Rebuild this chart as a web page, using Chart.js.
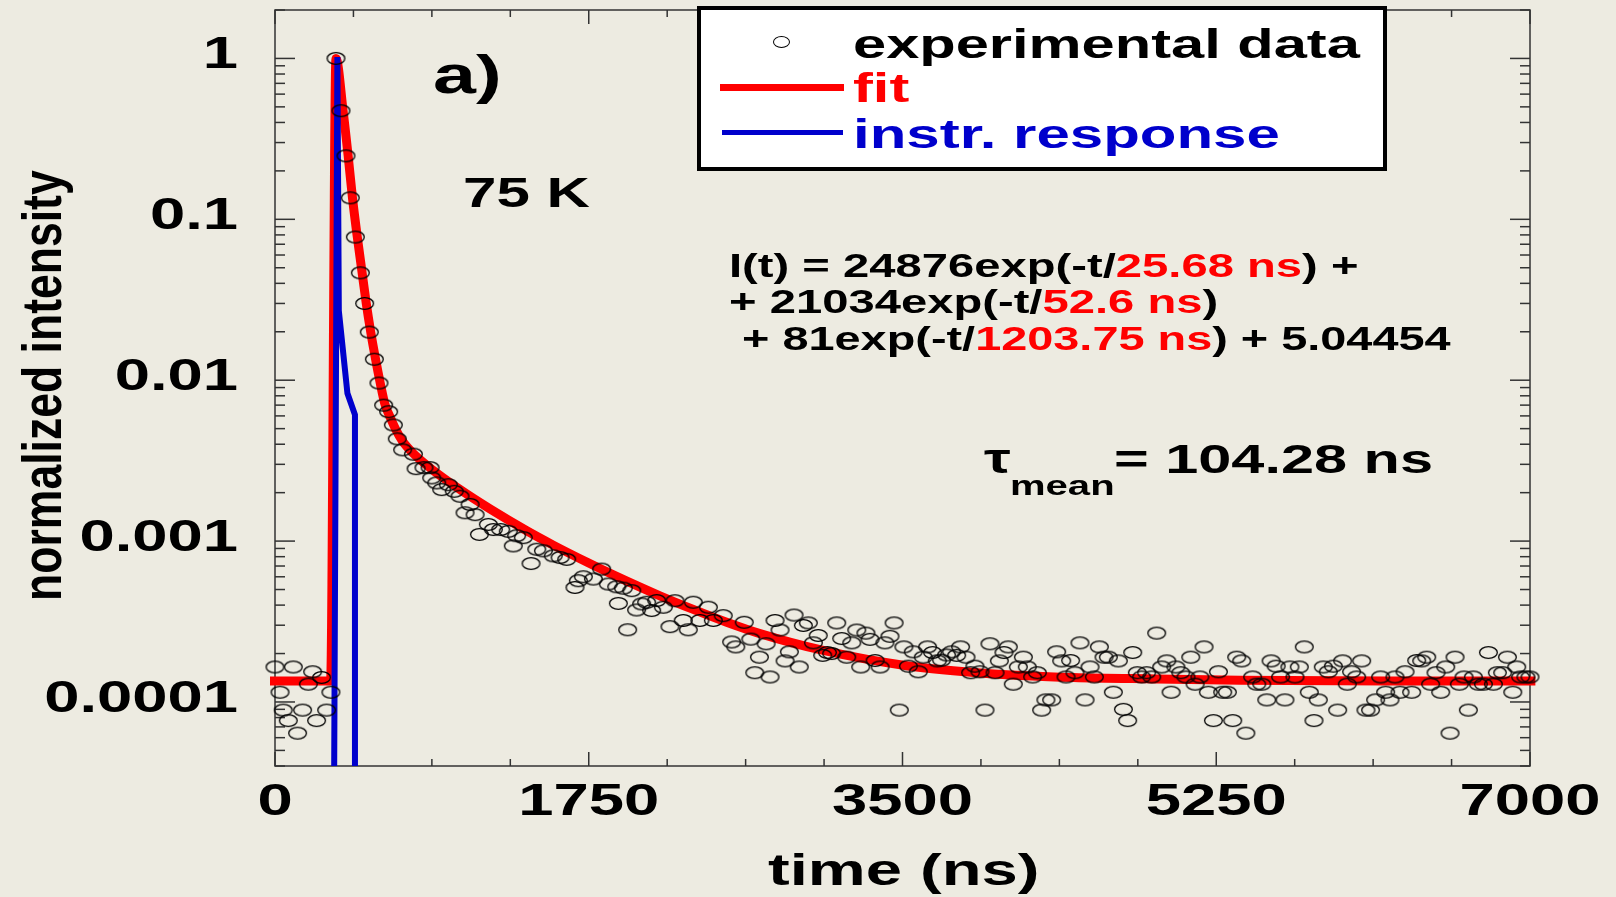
<!DOCTYPE html>
<html>
<head>
<meta charset="utf-8">
<script src="https://cdn.jsdelivr.net/npm/chart.js@4.4.0/dist/chart.umd.min.js"></script>
<style>
  html, body { margin: 0; padding: 0; background: #EDEBE1; }
  #contenitore { position: relative; width: 1616px; height: 897px; overflow: hidden; background: #EDEBE1; }
  #grafico { position: absolute; left: 0; top: 0; }
  .testo { position: absolute; font-family: "Liberation Sans", Arial, sans-serif; font-weight: bold;
           white-space: pre; line-height: 1; transform-origin: 0 0; color: #000; }
  .rosso { color: #FF0000; }
  .blu { color: #0000CC; }
  #legenda { position: absolute; left: 697px; top: 6px; width: 690px; height: 165px; box-sizing: border-box;
             border: 4px solid #000; background: #fff; }
  .linea { position: absolute; }
  #marcatore { position: absolute; left: 773px; top: 36px; width: 15px; height: 10px;
               border: 1.2px solid #000; border-radius: 50%; }
</style>
</head>
<body>
<div id="contenitore">
  <canvas id="grafico" width="1616" height="897"></canvas>

  <div class="testo" id="etichettaA">a)</div>
  <div class="testo" id="temperatura">75 K</div>
  <div class="testo" id="eq1">I(t) = 24876exp(-t/<span class="rosso">25.68 ns</span>) +</div>
  <div class="testo" id="eq2">+ 21034exp(-t/<span class="rosso">52.6 ns</span>)</div>
  <div class="testo" id="eq3"> + 81exp(-t/<span class="rosso">1203.75 ns</span>) + 5.04454</div>
  <div class="testo" id="tau">τ</div>
  <div class="testo" id="tauPedice">mean</div>
  <div class="testo" id="tauValore">= 104.28 ns</div>

  <div id="legenda"></div>
  <div id="marcatore"></div>
  <div class="linea" style="left:720px; top:84px; width:124px; height:7px; background:#FF0000;"></div>
  <div class="linea" style="left:722px; top:130px; width:121px; height:5px; background:#0000CC;"></div>
  <div class="testo" id="legDati">experimental data</div>
  <div class="testo rosso" id="legFit">fit</div>
  <div class="testo blu" id="legStrumento">instr. response</div>

  <div class="testo" id="titoloX">time (ns)</div>
  <div class="testo" id="titoloY">normalized intensity</div>
</div>

<script>
// dati sperimentali: prima della salita
const tempiPre = [0, 28, 46, 74, 102, 126, 154, 186, 210, 232, 260, 288, 312];
const intensitaPre = [1.65e-4, 1.15e-4, 8.9e-5, 7.66e-5, 1.65e-4, 6.4e-5, 8.9e-5, 1.29e-4, 1.54e-4, 7.66e-5, 1.42e-4, 8.9e-5, 1.15e-4];

// picco e decadimento veloce
const tempiPicco = [
  340, 368, 396, 420, 448, 476, 500, 526, 554, 580,
  606, 634, 660, 682, 712, 772, 787, 831, 865, 874,
  902, 930, 967, 1000, 1032, 1060, 1088, 1116, 1140, 1190,
  1218, 1259, 1301, 1329, 1348, 1385, 1428, 1460, 1497, 1552,
  1590, 1627, 1673, 1692, 1720, 1776, 1822, 1859, 1906, 1915,
  1943, 1967, 1990, 2017, 2045, 2073, 2101, 2129, 2166, 2203,
  2231, 2277, 2305, 2333, 2370, 2417, 2445, 2500, 2547, 2570,
  2617, 2654, 2676, 2702
];
const intensitaPicco = [
  1.0, 0.473, 0.248, 0.136, 0.0776, 0.0465, 0.030, 0.0199, 0.0135, 0.0096,
  0.0070, 0.00637, 0.00527, 0.00432, 0.00369, 0.00347, 0.00282, 0.00286, 0.00286, 0.00247,
  0.0023, 0.00209, 0.00224, 0.00204, 0.0019, 0.0015, 0.00169, 0.00146, 0.0011, 0.00127,
  0.00118, 0.00118, 0.00115, 0.000933, 0.00108, 0.00105, 0.000725, 0.00089, 0.00087, 0.00081,
  0.00079, 0.00077, 0.000515, 0.000567, 0.0006, 0.000581, 0.00067, 0.000541, 0.00052, 0.00041,
  0.00051, 0.000281, 0.000492, 0.000373, 0.000407, 0.000417, 0.00037, 0.000427, 0.000388, 0.000294,
  0.000426, 0.000321, 0.000281, 0.000417, 0.000321, 0.000388, 0.000321, 0.000344, 0.000236, 0.00022,
  0.000313, 0.000246, 0.000152, 0.00019
];

// coda lenta
const tempiCoda = [
  2739, 2761, 2789, 2817, 2845, 2869, 2895, 2924, 2947, 2975,
  3003, 3030, 3055, 3081, 3105, 3133, 3161, 3189, 3217, 3245,
  3267, 3296, 3319, 3347, 3375, 3402, 3430, 3453, 3482, 3508,
  3533, 3560, 3588, 3616, 3640, 3668, 3694, 3718, 3746, 3774,
  3802, 3824, 3854, 3880, 3904, 3932, 3960, 3988, 4016, 4040,
  4066, 4090, 4118, 4146, 4174, 4196, 4226, 4252, 4276, 4300,
  4332, 4360, 4388, 4412, 4438, 4462, 4490, 4518, 4546, 4570,
  4598, 4624, 4648, 4676, 4704, 4732, 4756, 4784, 4810, 4834,
  4862, 4890, 4918, 4946, 4974, 4998, 5025, 5052, 5081, 5108,
  5132, 5159, 5182, 5206, 5234, 5262, 5286, 5312, 5342, 5364,
  5392, 5415, 5453, 5476, 5504, 5532, 5556, 5584, 5609, 5633,
  5661, 5689, 5713, 5741, 5769, 5795, 5819, 5847, 5875, 5903,
  5927, 5955, 5981, 6005, 6033, 6061, 6085, 6111, 6139, 6167,
  6195, 6219, 6247, 6275, 6303, 6340, 6368, 6396, 6424, 6446,
  6476, 6502, 6530, 6554, 6582, 6606, 6632, 6656, 6684, 6712,
  6740, 6768, 6796, 6818, 6848, 6874, 6904, 6926, 6948, 6977,
  7000
];
const intensitaCoda = [
  2.3e-4, 1.43e-4, 3.21e-4, 2.8e-4, 1.8e-4, 2.05e-4, 3.47e-4, 1.65e-4, 2.99e-4, 3.1e-4,
  2.33e-4, 2.59e-4, 1.95e-4, 2.03e-4, 2.0e-4, 3.1e-4, 2.48e-4, 1.9e-4, 2.33e-4, 2.8e-4,
  1.65e-4, 2.68e-4, 2.45e-4, 1.81e-4, 1.65e-4, 2.33e-4, 2.56e-4, 3.1e-4, 8.9e-5, 2.2e-4,
  1.67e-4, 2.05e-4, 1.54e-4, 1.9e-4, 2.2e-4, 2.03e-4, 1.8e-4, 1.82e-4, 1.96e-4, 2.05e-4,
  1.95e-4, 2.2e-4, 1.9e-4, 1.52e-4, 1.67e-4, 1.54e-4, 8.9e-5, 2.3e-4, 1.52e-4, 1.8e-4,
  2.03e-4, 2.2e-4, 1.29e-4, 1.65e-4, 1.9e-4, 1.65e-4, 1.43e-4, 1.52e-4, 8.9e-5, 1.03e-4,
  1.03e-4, 2.05e-4, 1.8e-4, 1.43e-4, 1.81e-4, 1.52e-4, 2.33e-4, 1.03e-4, 1.65e-4, 1.43e-4,
  2.2e-4, 1.9e-4, 1.9e-4, 1.15e-4, 1.8e-4, 9.0e-5, 7.66e-5, 2.03e-4, 1.52e-4, 1.43e-4,
  1.52e-4, 1.43e-4, 2.68e-4, 1.65e-4, 1.8e-4, 1.15e-4, 1.65e-4, 1.52e-4, 1.43e-4, 1.9e-4,
  1.29e-4, 1.43e-4, 2.2e-4, 1.15e-4, 7.66e-5, 1.54e-4, 1.15e-4, 1.15e-4, 7.66e-5, 1.9e-4,
  1.8e-4, 6.4e-5, 1.43e-4, 1.29e-4, 1.29e-4, 1.03e-4, 1.8e-4, 1.67e-4, 1.43e-4, 1.03e-4,
  1.65e-4, 1.43e-4, 1.65e-4, 2.2e-4, 1.15e-4, 7.66e-5, 1.03e-4, 1.65e-4, 1.54e-4, 1.67e-4,
  8.9e-5, 1.8e-4, 1.29e-4, 1.54e-4, 1.43e-4, 1.8e-4, 8.9e-5, 8.9e-5, 1.03e-4, 1.43e-4,
  1.15e-4, 1.03e-4, 1.43e-4, 1.15e-4, 1.54e-4, 1.15e-4, 1.81e-4, 1.8e-4, 1.9e-4, 1.29e-4,
  1.52e-4, 1.15e-4, 1.65e-4, 6.4e-5, 1.9e-4, 1.29e-4, 1.43e-4, 8.9e-5, 1.43e-4, 1.29e-4,
  1.29e-4, 2.03e-4, 1.29e-4, 1.52e-4, 1.52e-4, 1.9e-4, 1.15e-4, 1.65e-4, 1.43e-4, 1.43e-4,
  1.43e-4
];

// curva di fit
const tempiFit = [-28, 310, 340, 380, 408, 432, 459, 486, 509, 534, 561, 587, 613, 645, 675, 710,
  771, 865, 1032, 1199, 1404, 1552, 1747, 1887, 2147, 2333, 2519, 2705, 3058, 3523, 3989, 4453,
  4918, 5383, 6200, 7030];
const intensitaFit = [1.35e-4, 1.35e-4, 1.0, 0.47, 0.248, 0.136, 0.0776, 0.0465, 0.030, 0.0199,
  0.0135, 0.0096, 0.0071, 0.0058, 0.0049, 0.0042, 0.00351, 0.00285, 0.00209, 0.001585,
  0.00116, 9.44e-4, 7.33e-4, 6.17e-4, 4.57e-4, 3.76e-4, 3.13e-4, 2.66e-4, 2.09e-4, 1.68e-4,
  1.50e-4, 1.42e-4, 1.39e-4, 1.365e-4, 1.35e-4, 1.35e-4];

// risposta strumentale
const tempiStrumento = [329, 348, 356, 404, 446, 446];
const intensitaStrumento = [2e-5, 1.02, 0.027, 0.0083, 0.0061, 2e-5];

// assi
const xMin = 0, xMax = 7000;
const yMin = 4e-5, yMax = 2;
const xTickValori = [0, 1750, 3500, 5250, 7000];
const xTickEtichette = ['0', '1750', '3500', '5250', '7000'];
const xPassoMinore = 437.5;
const yTickValori = [1e-4, 1e-3, 1e-2, 0.1, 1];
const yTickEtichette = ['0.0001', '0.001', '0.01', '0.1', '1'];

function punti(tt, yy) {
  return tt.map((t, i) => ({ x: t, y: yy[i] }));
}

function creaCerchio(w, h, spessore) {
  const c = document.createElement('canvas');
  c.width = w + 2;
  c.height = h + 2;
  const g = c.getContext('2d');
  g.strokeStyle = '#000';
  g.lineWidth = spessore;
  g.beginPath();
  g.ellipse(c.width / 2, c.height / 2, (w - spessore) / 2, (h - spessore) / 2, 0, 0, Math.PI * 2);
  g.stroke();
  return c;
}

const FONT = '"Liberation Sans", Arial, sans-serif';
const ALLARGA = 1.44;

const assiPlugin = {
  id: 'assiInterni',
  beforeDatasetsDraw(chart) {
    const { ctx, chartArea: a, scales: { x, y } } = chart;
    ctx.save();
    ctx.strokeStyle = '#333';
    ctx.lineWidth = 1.5;
    ctx.strokeRect(a.left, a.top, a.right - a.left, a.bottom - a.top);

    const linea = (x1, y1, x2, y2) => {
      ctx.beginPath();
      ctx.moveTo(x1, y1);
      ctx.lineTo(x2, y2);
      ctx.stroke();
    };

    // tacche asse x, sopra e sotto, verso l'interno
    for (let v = xMin; v <= xMax + 0.1; v += xPassoMinore) {
      const px = x.getPixelForValue(v);
      const lung = xTickValori.includes(v) ? 14 : 7;
      linea(px, a.bottom, px, a.bottom - lung);
      linea(px, a.top, px, a.top + lung);
    }

    // tacche asse y logaritmico
    for (let d = -5; d <= 0; d++) {
      for (let m = 1; m <= 9; m++) {
        const v = m * Math.pow(10, d);
        if (v < yMin * 0.999 || v > yMax * 1.001) continue;
        const py = y.getPixelForValue(v);
        const lung = m === 1 ? 20 : 10;
        linea(a.left, py, a.left + lung, py);
        linea(a.right, py, a.right - lung, py);
      }
    }
    ctx.restore();
  },
  afterDraw(chart) {
    const { ctx, chartArea: a, scales: { x, y } } = chart;
    ctx.save();
    ctx.fillStyle = '#000';
    ctx.font = 'bold 44px ' + FONT;
    ctx.textBaseline = 'alphabetic';

    yTickValori.forEach((v, i) => {
      const py = y.getPixelForValue(v);
      ctx.save();
      ctx.translate(a.left - 37, py + 10);
      ctx.scale(ALLARGA, 1);
      ctx.textAlign = 'right';
      ctx.fillText(yTickEtichette[i], 0, 0);
      ctx.restore();
    });

    xTickValori.forEach((v, i) => {
      const px = x.getPixelForValue(v);
      ctx.save();
      ctx.translate(px, a.bottom + 49);
      ctx.scale(ALLARGA, 1);
      ctx.textAlign = 'center';
      ctx.fillText(xTickEtichette[i], 0, 0);
      ctx.restore();
    });
    ctx.restore();
  }
};

const cerchio = creaCerchio(19, 13, 1.3);

new Chart(document.getElementById('grafico'), {
  type: 'scatter',
  data: {
    datasets: [
      {
        label: 'experimental data',
        data: punti(tempiPre.concat(tempiPicco, tempiCoda), intensitaPre.concat(intensitaPicco, intensitaCoda)),
        pointStyle: cerchio,
        pointRadius: 9,
        showLine: false,
        clip: false,
        order: 0
      },
      {
        label: 'instr. response',
        data: punti(tempiStrumento, intensitaStrumento),
        showLine: true,
        borderColor: '#0000CC',
        borderWidth: 6,
        pointRadius: 0,
        order: 1
      },
      {
        label: 'fit',
        data: punti(tempiFit, intensitaFit),
        showLine: true,
        borderColor: '#FF0000',
        borderWidth: 9,
        borderCapStyle: 'butt',
        pointRadius: 0,
        cubicInterpolationMode: 'monotone',
        clip: { left: 8, right: 8, top: 5, bottom: 5 },
        order: 2
      }
    ]
  },
  options: {
    responsive: false,
    devicePixelRatio: 1,
    animation: false,
    layout: { padding: { left: 275, right: 86, top: 6, bottom: 131 } },
    scales: {
      x: { type: 'linear', min: xMin, max: xMax, display: false },
      y: { type: 'logarithmic', min: yMin, max: yMax, display: false }
    },
    plugins: {
      legend: { display: false },
      tooltip: { enabled: false }
    }
  },
  plugins: [assiPlugin]
});

// testi sovrapposti: posizione per linea di base
function posiziona(id, x, base, size, sx, allinea) {
  const el = document.getElementById(id);
  el.style.fontSize = size + 'px';
  el.style.top = (base - 0.8465 * size) + 'px';
  const w = el.offsetWidth * sx;
  el.style.left = (allinea === 'center' ? x - w / 2 : x) + 'px';
  el.style.transform = 'scaleX(' + sx + ')';
}

posiziona('etichettaA', 433, 93, 54, 1.43);
posiziona('temperatura', 463, 208, 42, 1.43);
posiziona('eq1', 729, 277, 33, 1.43);
posiziona('eq2', 729, 313, 33, 1.43);
posiziona('eq3', 729, 350, 33, 1.42);
posiziona('tau', 984, 474, 42, 1.43);
posiziona('tauPedice', 1010, 496, 28, 1.43);
posiziona('tauValore', 1114, 474, 41, 1.45);
posiziona('legDati', 853, 58, 40, 1.49);
posiziona('legFit', 853, 102, 40, 1.49);
posiziona('legStrumento', 853, 148, 40, 1.50);
posiziona('titoloX', 903, 885, 44, 1.48, 'center');

const titoloY = document.getElementById('titoloY');
titoloY.style.fontSize = '55px';
const lungY = titoloY.offsetWidth * 0.81;
titoloY.style.left = (62 - 0.8465 * 55) + 'px';
titoloY.style.top = (386 + lungY / 2) + 'px';
titoloY.style.transform = 'rotate(-90deg) scaleX(0.81)';
</script>
</body>
</html>
